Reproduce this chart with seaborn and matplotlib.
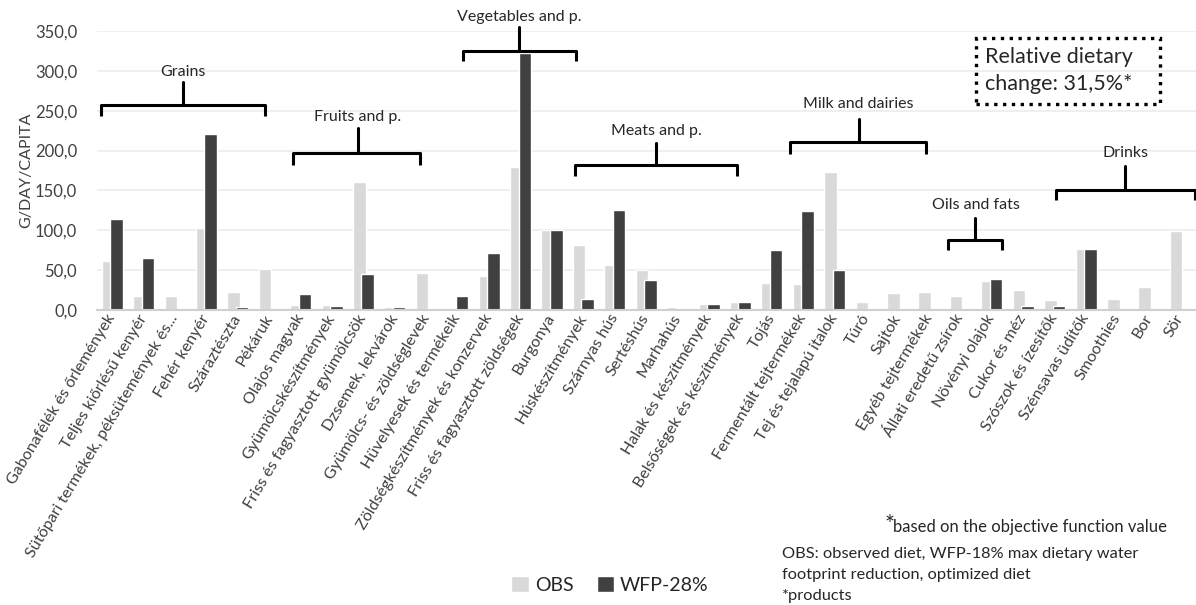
import numpy as np
import pandas as pd
import seaborn as sns
from matplotlib import pyplot as plt
from matplotlib.patches import Rectangle
from matplotlib.ticker import FuncFormatter

categories = [
    'Gabonafélék és őrlemények', 'Teljes kiőrlésű kenyér', 'Sütőpari termékek, péksütemények és...',
    'Fehér kenyér', 'Száraztészta', 'Pékáruk', 'Olajos magvak', 'Gyümölcskészítmények',
    'Friss és fagyasztott gyümölcsök', 'Dzsemek, lekvárok', 'Gyümölcs- és zöldséglevek',
    'Hüvelyesek és termékeik', 'Zöldségkészítmények és konzervek', 'Friss és fagyasztott zöldségek',
    'Burgonya', 'Húskészítmények', 'Szárnyas hús', 'Sertéshús', 'Marhahús', 'Halak és készítmények',
    'Belsőségek és készítmények', 'Tojás', 'Fermentált tejtermékek', 'Tej és tejalapú italok',
    'Túró', 'Sajtok', 'Egyéb tejtermékek', 'Állati eredetű zsírok', 'Növényi olajok',
    'Cukor és méz', 'Szószok és ízesítők', 'Szénsavas üdítők', 'Smoothies', 'Bor', 'Sör']
obs = [61, 17, 18, 103, 23, 52, 6, 6, 160, 4, 46, 3, 43, 180, 100, 81, 56, 50, 4, 7,
       10, 34, 33, 173, 10, 21, 23, 17, 36, 25, 13, 77, 14, 29, 99]
wfp = [114, 65, 0, 221, 4, 0, 20, 5, 45, 4, 0, 17, 71, 322, 100, 14, 126, 38, 2.5, 7,
       10, 75, 124, 50, 0, 0, 0, 0, 39, 4.5, 4.5, 77, 0, 0, 0]
series_names = ['OBS', 'WFP-28%']

# group braces: label, left, stem, right (category units), bar height, hook bottom, stem top, label y
groups = [
    ('Grains', -0.35, 2.24, 4.85, 257, 243, 286, 298),
    ('Fruits and p.', 5.77, 7.82, 9.81, 197, 182, 228, 242),
    ('Vegetables and p.', 11.17, 12.95, 14.75, 325, 312, 355, 368),
    ('Meats and p.', 14.72, 17.32, 19.89, 182, 168, 210, 225),
    ('Milk and dairies', 21.57, 23.76, 25.92, 211, 196, 240, 259),
    ('Oils and fats', 26.61, 27.48, 28.34, 88, 75, 116, 132),
    ('Drinks', 30.04, 32.24, 34.47, 151, 138, 181, 197),
]

df = pd.DataFrame({
    'category': categories * 2,
    'value': obs + wfp,
    'series': [series_names[0]] * len(obs) + [series_names[1]] * len(wfp),
})

sns.set_style('white')
plt.rcParams['font.family'] = ['Lato', 'DejaVu Sans']

fig = plt.figure(figsize=(11.96, 6.05), dpi=100)
ax = fig.add_axes([0.0807, 0.4876, 0.9193, 0.4612])

sns.barplot(data=df, x='category', y='value', hue='series', hue_order=series_names,
            palette=['#d9d9d9', '#404040'], width=0.8, ax=ax, legend=True)

# Excel-style overlap between the two series
for patch in ax.containers[0]:
    patch.set_x(patch.get_x() + 0.065)
for patch in ax.containers[1]:
    patch.set_x(patch.get_x() - 0.065)

ax.set_xlim(-0.5, len(categories) - 0.5)
ax.set_ylim(0, 350)
ax.set_yticks(np.arange(0, 351, 50))
ax.yaxis.set_major_formatter(FuncFormatter(lambda v, p: f'{v:.1f}'.replace('.', ',')))
ax.grid(axis='y', color='#ececec', linewidth=1.2)
ax.set_axisbelow(True)
for s in ['top', 'right', 'left']:
    ax.spines[s].set_visible(False)
ax.spines['bottom'].set_color('#d0d0d0')
ax.spines['bottom'].set_linewidth(1.5)
ax.tick_params(axis='both', length=0, colors='#404040')
ax.tick_params(axis='y', labelsize=12, pad=14)
ax.tick_params(axis='x', labelsize=11.6, pad=4)
plt.setp(ax.get_xticklabels(), rotation=59, ha='right', va='center', rotation_mode='anchor')
ax.set_xlabel('')
ax.set_ylabel('G/DAY/CAPITA', fontsize=11.5, color='#404040', labelpad=1)

for label, x0, xs, x1, yb, yh, yt, yl in groups:
    ax.plot([x0, x0, x1, x1], [yh, yb, yb, yh], color='black', lw=2.2,
            clip_on=False, solid_joinstyle='round', solid_capstyle='butt')
    ax.plot([xs, xs], [yb, yt], color='black', lw=2.2, clip_on=False)
    ax.text(xs, yl, label, ha='center', va='center', fontsize=11.5, color='#262626', clip_on=False)

# dotted box with the relative dietary change
fig.patches.append(Rectangle((976 / 1196, 1 - 104 / 605), 184 / 1196, 66 / 605,
                             transform=fig.transFigure, fill=False, ec='black', lw=2.4, ls=':'))
fig.text(985 / 1196, 1 - 57 / 605, 'Relative dietary', fontsize=15.5, color='#262626',
         ha='left', va='center')
fig.text(985 / 1196, 1 - 84 / 605, 'change: 31,5%*', fontsize=15.5, color='#262626',
         ha='left', va='center')

handles, labels = ax.get_legend_handles_labels()
ax.get_legend().remove()
fig.legend(handles, labels, loc='center', bbox_to_anchor=(0.51, 0.033), ncol=2, frameon=False,
           fontsize=14, handlelength=0.9, handleheight=0.9, handletextpad=0.3, columnspacing=1.2,
           labelcolor='#262626')

fig.text(885 / 1196, 1 - 525 / 605, '*', fontsize=17, color='#262626', ha='left', va='center')
fig.text(893 / 1196, 1 - 527 / 605, 'based on the objective function value', fontsize=12,
         color='#262626', ha='left', va='center')
for i, line in enumerate(['OBS: observed diet, WFP-18% max dietary water',
                          'footprint reduction, optimized diet', '*products']):
    fig.text(782 / 1196, 1 - (554 + 21 * i) / 605, line, fontsize=11.8, color='#262626',
             ha='left', va='center')

fig.savefig('out.png', dpi=100, facecolor='white')
